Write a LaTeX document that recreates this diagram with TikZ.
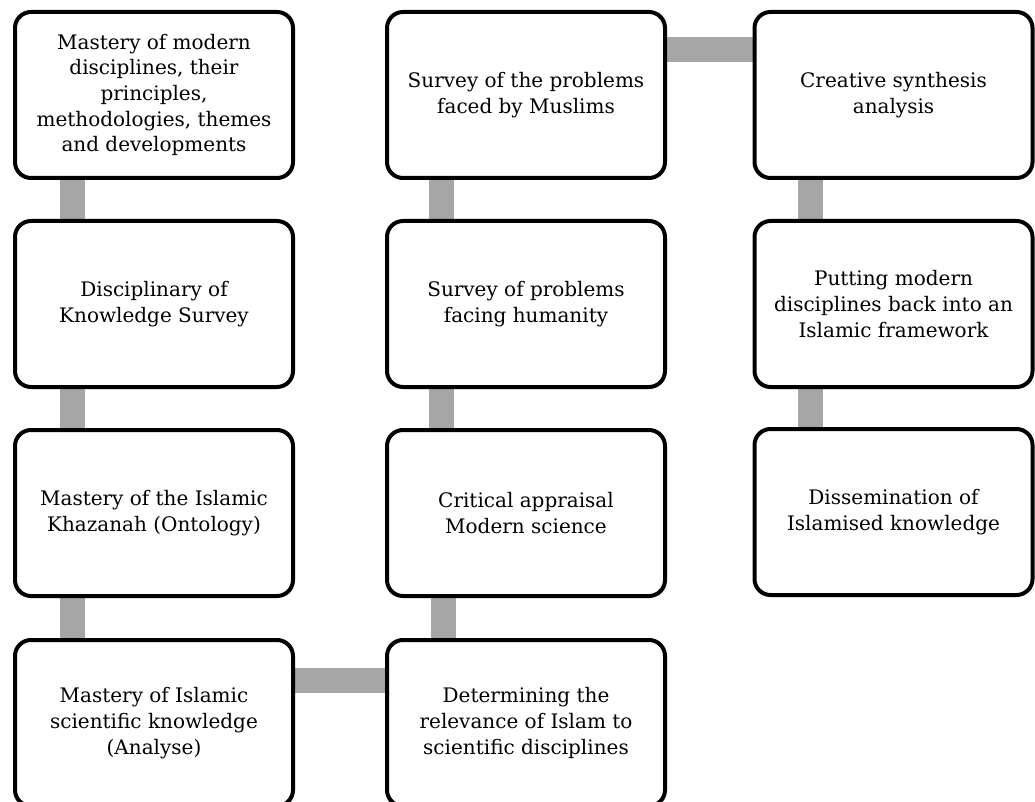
\documentclass[tikz,border=0pt]{standalone}
\usepackage{fontspec}
\setmainfont{DejaVu Serif}
\usetikzlibrary{backgrounds,calc}
\definecolor{conngray}{RGB}{166,166,166}
\tikzset{
  stage/.style={draw=black, line width=4pt, rounded corners=16pt, fill=white,
    minimum width=278pt, minimum height=166pt, align=center, inner sep=0pt,
    font=\fontsize{20}{25.7}\selectfont},
  link/.style={draw=conngray, line width=25pt},
}
\begin{document}
\begin{tikzpicture}[x=1pt,y=-1pt]
\path[use as bounding box, clip] (0,0) rectangle (1035,802);
% column 1
\node[stage] (a1) at (154,95) {Mastery of modern\\disciplines, their\\principles,\\methodologies, themes\\and developments};
\node[stage] (a2) at (154,304) {Disciplinary of\\Knowledge Survey};
\node[stage] (a3) at (154,513) {Mastery of the Islamic\\Khazanah (Ontology)};
\node[stage] (a4) at (154,723) {Mastery of Islamic\\scientific knowledge\\(Analyse)};
% column 2
\node[stage] (b1) at (526,95) {Survey of the problems\\faced by Muslims};
\node[stage] (b2) at (526,304) {Survey of problems\\facing humanity};
\node[stage] (b3) at (526,513) {Critical appraisal\\Modern science};
\node[stage] (b4) at (526,723) {Determining the\\relevance of Islam to\\scientific disciplines};
% column 3
\node[stage] (c1) at (893.5,95) {Creative synthesis\\analysis};
\node[stage] (c2) at (893.5,304) {Putting modern\\disciplines back into an\\Islamic framework};
\node[stage] (c3) at (893.5,512) {Dissemination of\\Islamised knowledge};
\begin{scope}[on background layer]
\draw[link] ($(a1.south west)+(59,0)$) -- ($(a2.north west)+(59,0)$);
\draw[link] ($(a2.south west)+(59,0)$) -- ($(a3.north west)+(59,0)$);
\draw[link] ($(a3.south west)+(59,0)$) -- ($(a4.north west)+(59,0)$);
\draw[link] ($(a4.north east)+(0,42)$) -- ($(b4.north west)+(0,42)$);
\draw[link] ($(b4.north west)+(58,0)$) -- ($(b3.south west)+(58,0)$);
\draw[link] ($(b3.north west)+(56,0)$) -- ($(b2.south west)+(56,0)$);
\draw[link] ($(b2.north west)+(56,0)$) -- ($(b1.south west)+(56,0)$);
\draw[link] ($(b1.north east)+(0,40)$) -- ($(c1.north west)+(0,40)$);
\draw[link] ($(c1.south west)+(58,0)$) -- ($(c2.north west)+(58,0)$);
\draw[link] ($(c2.south west)+(58,0)$) -- ($(c3.north west)+(58,0)$);
\end{scope}
\end{tikzpicture}
\end{document}
